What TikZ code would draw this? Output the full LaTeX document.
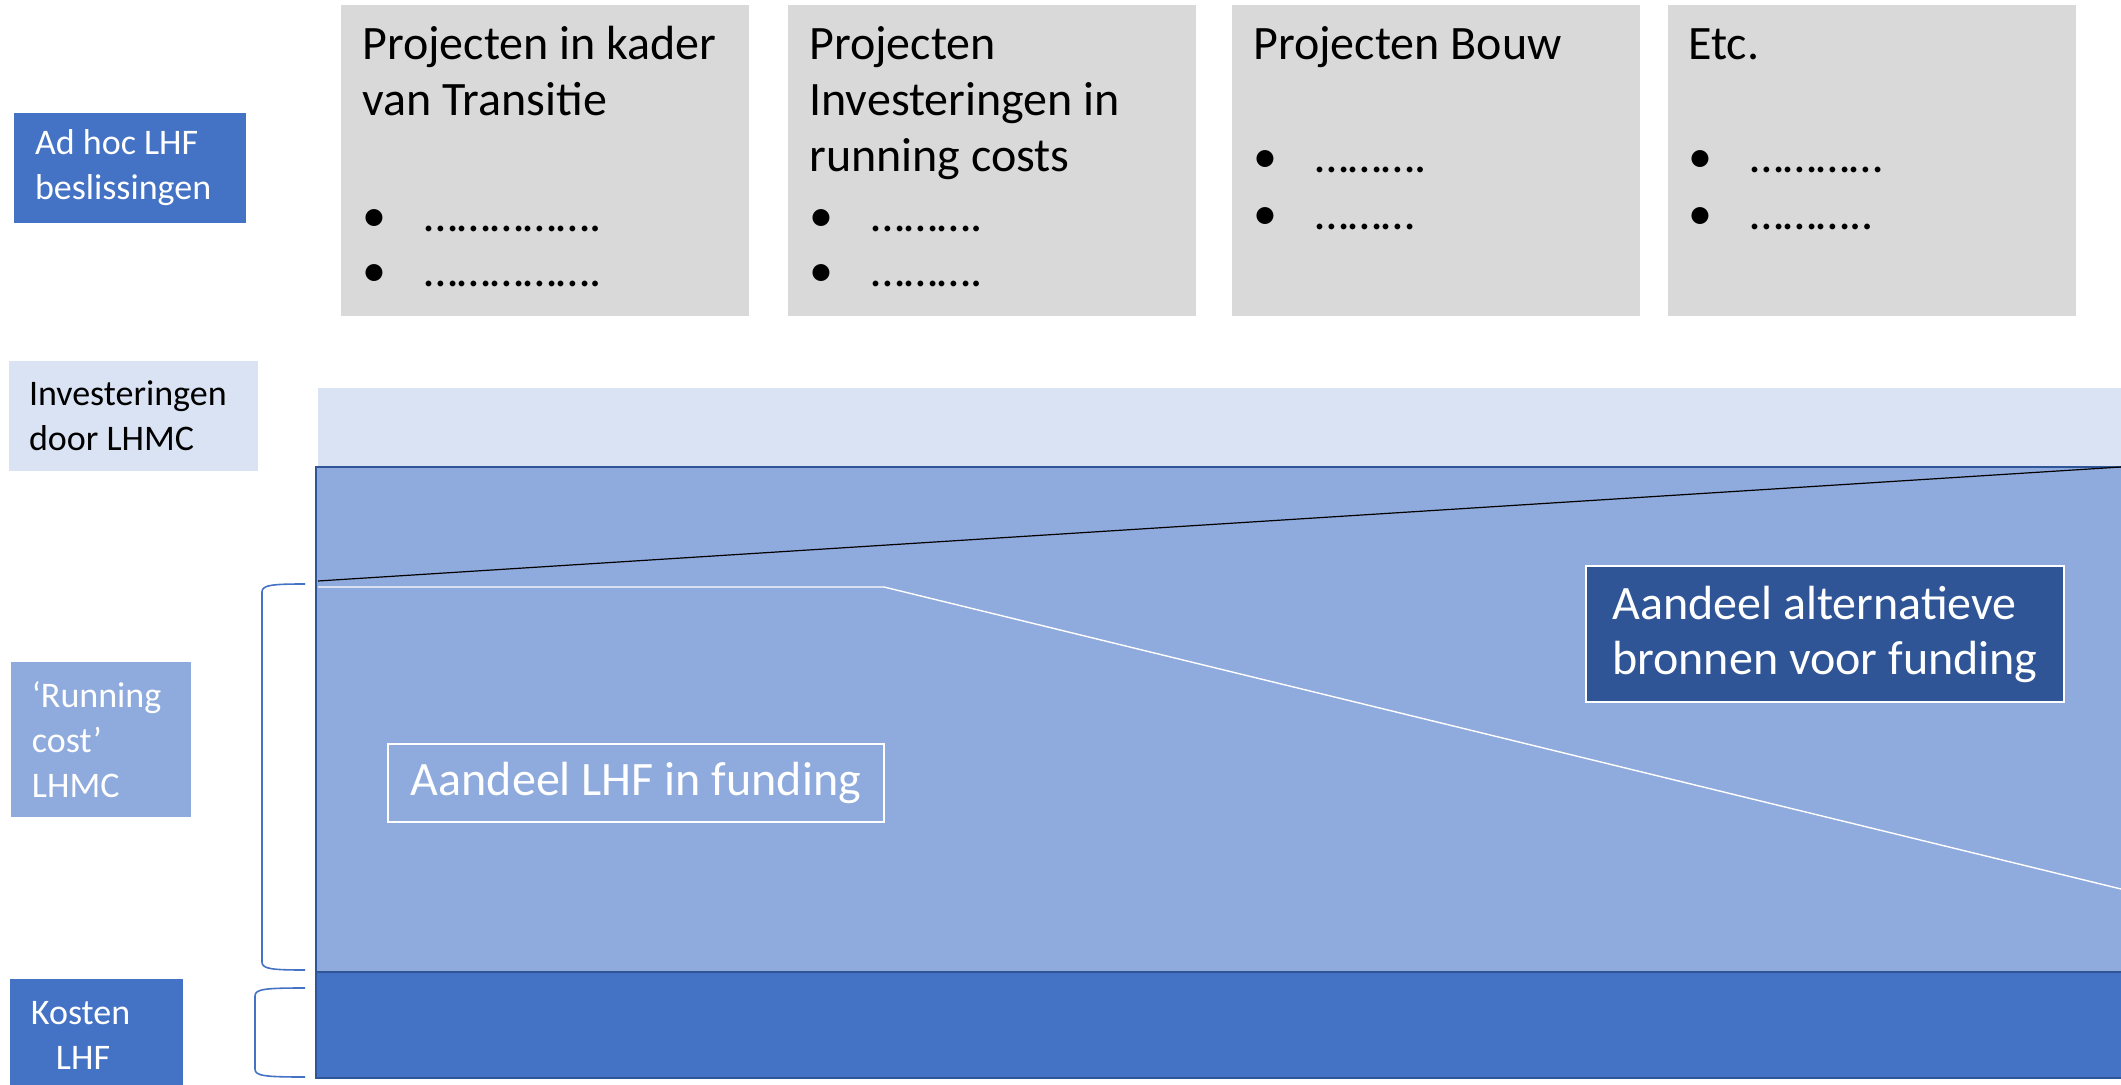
\documentclass[tikz,border=0pt]{standalone}
\usepackage{fontspec}
\setmainfont{Carlito}
\usepackage{tikz}

\definecolor{lhfblue}{HTML}{4472C4}
\definecolor{paleblue}{HTML}{DAE3F3}
\definecolor{midblue}{HTML}{8FAADC}
\definecolor{deepblue}{HTML}{2F5597}
\definecolor{projgray}{HTML}{D9D9D9}

\newcommand\bul[1]{\makebox[31pt][l]{•}#1}

\begin{document}
\begin{tikzpicture}[x=0.5pt,y=-0.5pt,
  sidelbl/.style={inner sep=0pt, align=flush left, font=\fontsize{18}{22.5}\selectfont},
  projbox/.style={fill=projgray, anchor=north west, inner sep=0pt,
                  minimum width=204pt, minimum height=155.5pt},
  projtxt/.style={anchor=base west, inner sep=0pt, font=\fontsize{24}{28}\selectfont},
  sharebox/.style={draw=white, line width=0.8pt, text=white, align=flush left,
                   font=\fontsize{24}{27.5}\selectfont},
  brace/.style={draw=lhfblue, line width=0.8pt}]

  \useasboundingbox (0,0) rectangle (2121,1085);
  \clip (0,0) rectangle (2121,1085);

% labels at left
  \node[sidelbl, fill=lhfblue, text=white, minimum width=116pt, minimum height=55pt,
        text width=95pt] (adhoc) at (130,168) {Ad hoc LHF\\beslissingen};
  \node[sidelbl, fill=paleblue, minimum width=124.5pt, minimum height=55pt,
        text width=104.5pt] (invest) at (133.5,416) {Investeringen\\door LHMC};
  \node[sidelbl, fill=midblue, text=white, minimum width=90pt, minimum height=77.5pt,
        text width=69pt] (running) at (101,739.5) {‘Running\\cost’\\LHMC};
  \node[sidelbl, fill=lhfblue, text=white, minimum width=86.5pt, minimum height=56.5pt,
        text width=65.5pt] (kosten) at (96.5,1035) {Kosten\\\hspace*{12.5pt}LHF};

% project boxes
  \node[projbox] (proj1) at (341,5) {};
  \node[projbox] (proj2) at (788,5) {};
  \node[projbox] (proj3) at (1232,5) {};
  \node[projbox] (proj4) at (1668,5) {};

  \node[projtxt] (title1a) at (362,60) {Projecten in kader};
  \node[projtxt] (title1b) at (362,116) {van Transitie};
  \node[projtxt] (item1a) at (362,232) {\bul{…………….}};
  \node[projtxt] (item1b) at (362,287) {\bul{…………….}};

  \node[projtxt] (title2a) at (809,60) {Projecten};
  \node[projtxt] (title2b) at (809,116) {Investeringen in};
  \node[projtxt] (title2c) at (809,172) {running costs};
  \node[projtxt] (item2a) at (809,232) {\bul{……….}};
  \node[projtxt] (item2b) at (809,287) {\bul{……….}};

  \node[projtxt] (title3) at (1253,60) {Projecten Bouw};
  \node[projtxt] (item3a) at (1253,173) {\bul{……….}};
  \node[projtxt] (item3b) at (1253,230) {\bul{………}};

  \node[projtxt] (title4) at (1688,60) {Etc.};
  \node[projtxt] (item4a) at (1688,173) {\bul{…………}};
  \node[projtxt] (item4b) at (1688,230) {\bul{………..}};

% funding blocks
  \fill[paleblue] (318,388) rectangle (2121,466);
  \filldraw[fill=midblue, draw=deepblue, line width=1.2pt] (316,467) rectangle (2135,972);
  \filldraw[fill=lhfblue, draw=deepblue, line width=1.2pt] (316,972) rectangle (2135,1078);

  \coordinate (capL) at (318,581);
  \coordinate (capR) at (2121,467);
  \draw[black, line width=0.6pt] (capL) -- (capR);

  \coordinate (lhfL) at (318,587);
  \coordinate (lhfK) at (884,587);
  \coordinate (lhfR) at (2121,889);
  \draw[white, line width=0.7pt] (lhfL) -- (lhfK) -- (lhfR);

  \node[sharebox, fill=midblue, minimum width=248pt, minimum height=39pt]
       (lhfshare) at (636,783) {Aandeel LHF in funding};
  \node[sharebox, fill=deepblue, minimum width=239pt, minimum height=68pt]
       (altshare) at (1825,634) {Aandeel alternatieve\\bronnen voor funding};

% brackets
  \draw[brace] (305,584) .. controls (272,584) and (262,585) .. (262,592)
               -- (262,962) .. controls (262,969) and (272,970) .. (305,970);
  \draw[brace] (305,988) .. controls (265,988) and (255,989) .. (255,996)
               -- (255,1069) .. controls (255,1076) and (265,1077) .. (305,1077);

\end{tikzpicture}
\end{document}
